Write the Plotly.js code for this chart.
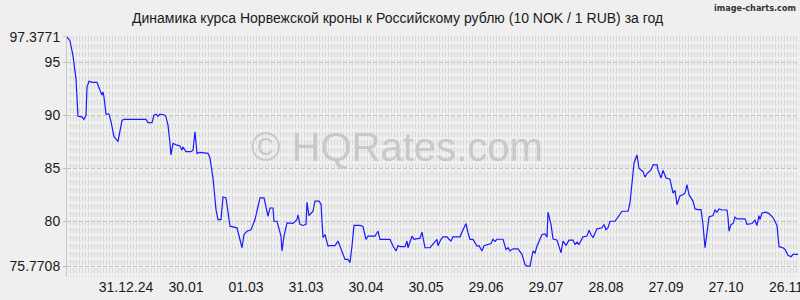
<!DOCTYPE html>
<html>
<head>
<meta charset="utf-8">
<script src="https://cdn.plot.ly/plotly-3.0.1.min.js"></script>
<style>html,body{margin:0;padding:0;background:#efefef;}#chart{width:800px;height:300px;}</style>
</head>
<body>
<div id="chart"></div>
<script>
const dates = [
"2024-12-01 12:00","2024-12-03","2024-12-04 12:00","2024-12-06","2024-12-07","2024-12-09","2024-12-10","2024-12-11","2024-12-11 12:00","2024-12-12 12:00",
"2024-12-14","2024-12-16 12:00","2024-12-18","2024-12-19","2024-12-19 12:00","2024-12-20","2024-12-21","2024-12-22 12:00","2024-12-23 12:00","2024-12-25",
"2024-12-26 12:00","2024-12-27","2024-12-29","2024-12-30","2025-01-10","2025-01-11","2025-01-13","2025-01-14","2025-01-15","2025-01-16",
"2025-01-17","2025-01-19 12:00","2025-01-20","2025-01-21","2025-01-22","2025-01-22 12:00","2025-01-23 12:00","2025-01-25","2025-01-27","2025-01-28",
"2025-01-28 12:00","2025-01-30","2025-02-01 12:00","2025-02-02 12:00","2025-02-03 12:00","2025-02-04 12:00","2025-02-06","2025-02-10","2025-02-11","2025-02-12 12:00",
"2025-02-14","2025-02-15","2025-02-16 12:00","2025-02-17 12:00","2025-02-19","2025-02-21","2025-02-24 12:00","2025-02-25 12:00","2025-02-27","2025-02-28",
"2025-03-01 12:00","2025-03-03 12:00","2025-03-05 12:00","2025-03-08","2025-03-10","2025-03-12","2025-03-13","2025-03-14 12:00","2025-03-15","2025-03-16 12:00",
"2025-03-17 12:00","2025-03-18 12:00","2025-03-19","2025-03-20","2025-03-21 12:00","2025-03-24 12:00","2025-03-26 12:00","2025-03-27","2025-03-28","2025-03-29 12:00",
"2025-03-31","2025-03-31 12:00","2025-04-01 12:00","2025-04-03 12:00","2025-04-04 12:00","2025-04-06 12:00","2025-04-07 12:00","2025-04-08 12:00","2025-04-09 12:00","2025-04-11",
"2025-04-12","2025-04-14 12:00","2025-04-16","2025-04-17","2025-04-18 12:00","2025-04-19 12:00","2025-04-21","2025-04-22","2025-04-23","2025-04-24",
"2025-04-27","2025-04-28 12:00","2025-04-30","2025-05-01","2025-05-04 12:00","2025-05-06","2025-05-07","2025-05-08 12:00","2025-05-12","2025-05-13 12:00",
"2025-05-15","2025-05-16","2025-05-17","2025-05-19 12:00","2025-05-20 12:00","2025-05-21","2025-05-22 12:00","2025-05-23","2025-05-24","2025-05-27",
"2025-05-28","2025-05-29 12:00","2025-06-01","2025-06-02 12:00","2025-06-04 12:00","2025-06-05","2025-06-06 12:00","2025-06-07 12:00","2025-06-09 12:00","2025-06-10 12:00",
"2025-06-11 12:00","2025-06-12 12:00","2025-06-16","2025-06-17 12:00","2025-06-19","2025-06-20","2025-06-21","2025-06-22 12:00","2025-06-24 12:00","2025-06-25 12:00",
"2025-06-27","2025-06-28","2025-06-29 12:00","2025-07-01 12:00","2025-07-02 12:00","2025-07-03 12:00","2025-07-04 12:00","2025-07-07 12:00","2025-07-09","2025-07-10",
"2025-07-11","2025-07-12 12:00","2025-07-15","2025-07-17","2025-07-18 12:00","2025-07-19 12:00","2025-07-21","2025-07-22 12:00","2025-07-23 12:00","2025-07-24 12:00",
"2025-07-27","2025-07-28 12:00","2025-07-29 12:00","2025-07-30","2025-07-31 12:00","2025-08-01 12:00","2025-08-03 12:00","2025-08-05 12:00","2025-08-06 12:00","2025-08-08",
"2025-08-09 12:00","2025-08-11 12:00","2025-08-12 12:00","2025-08-13 12:00","2025-08-14 12:00","2025-08-16 12:00","2025-08-18 12:00","2025-08-19 12:00","2025-08-20 12:00","2025-08-21 12:00",
"2025-08-23 12:00","2025-08-26","2025-08-27","2025-08-28","2025-08-29","2025-08-30","2025-09-01 12:00","2025-09-02 12:00","2025-09-03 12:00","2025-09-05",
"2025-09-08","2025-09-09","2025-09-10","2025-09-11","2025-09-12 12:00","2025-09-13 12:00","2025-09-14 12:00","2025-09-15 12:00","2025-09-16 12:00","2025-09-17 12:00",
"2025-09-19 12:00","2025-09-20 12:00","2025-09-22 12:00","2025-09-23","2025-09-24 12:00","2025-09-25 12:00","2025-09-27","2025-09-29","2025-09-30 12:00","2025-10-01 12:00",
"2025-10-02 12:00","2025-10-04","2025-10-05 12:00","2025-10-06 12:00","2025-10-07 12:00","2025-10-08 12:00","2025-10-10 12:00","2025-10-11 12:00","2025-10-13","2025-10-14 12:00",
"2025-10-15 12:00","2025-10-16 12:00","2025-10-17 12:00","2025-10-18 12:00","2025-10-20 12:00","2025-10-21 12:00","2025-10-22 12:00","2025-10-23 12:00","2025-10-25","2025-10-27 12:00",
"2025-10-28","2025-10-28 12:00","2025-10-29 12:00","2025-10-30 12:00","2025-10-31 12:00","2025-11-01 12:00","2025-11-05 12:00","2025-11-06 12:00","2025-11-09","2025-11-10 12:00",
"2025-11-11 12:00","2025-11-12 12:00","2025-11-13","2025-11-14","2025-11-16","2025-11-17 12:00","2025-11-19 12:00","2025-11-21 12:00","2025-11-22 12:00","2025-11-24 12:00",
"2025-11-25 12:00","2025-11-27","2025-11-28 12:00","2025-11-29 12:00","2025-12-02"
];
const rates = [
97.3771,97.0,95.6,93.4,89.9,89.85,89.6,90.0,92.65,93.2,
93.1,93.1,92.35,91.9,92.2,91.7,90.1,90.1,89.4,87.97,
87.66,87.5,89.5,89.6,89.6,89.3,89.3,90.0,90.1,89.9,
90.1,90.0,89.84,89.07,87.35,86.25,87.35,87.2,87.1,86.7,
87.0,86.56,86.56,86.7,88.44,86.4,86.5,86.4,85.95,84.07,
81.1,80.16,80.16,82.29,82.2,79.53,79.38,78.6,77.5,78.75,
79.06,79.2,80.16,82.2,82.2,80.47,81.25,81.25,80.0,80.0,
79.38,78.6,77.19,78.6,79.85,79.8,80.16,80.6,79.7,79.6,
79.7,81.78,80.53,80.94,81.9,81.9,81.6,78.44,78.75,77.66,
77.7,77.7,78.13,77.66,77.03,76.4,76.4,76.1,77.66,79.6,
79.6,79.5,78.28,78.6,78.6,79.06,78.28,78.3,78.3,77.66,
77.19,77.7,77.6,77.6,78.13,77.5,78.28,78.6,78.3,78.4,
78.97,77.5,77.5,77.81,78.28,77.7,78.3,78.53,78.53,78.3,
78.13,78.53,78.53,79.2,79.78,78.9,78.28,78.28,77.66,77.7,
77.19,77.7,77.8,77.9,78.3,78.1,78.3,78.3,77.34,77.5,
77.2,77.4,77.4,76.88,75.9,75.7708,75.7708,77.19,77.0,77.66,
78.75,78.8,78.5,80.85,79.7,78.35,78.22,77.03,78.13,77.72,
78.22,78.22,77.81,78.03,77.81,78.53,78.6,79.16,78.75,78.44,
79.28,79.38,79.69,79.2,79.4,80.0,80.0,80.22,80.53,80.94,
80.94,81.72,83.9,85.47,86.25,85.0,84.84,84.7,84.16,84.5,
84.84,85.31,85.31,84.84,84.07,84.8,84.07,83.97,82.66,82.9,
81.56,82.4,82.5,82.66,83.44,82.5,81.9,81.16,81.1,81.1,
79.69,77.5,78.9,80.4,80.53,81.06,80.85,81.16,81.06,81.06,
80.35,79.06,79.7,79.78,80.4,80.22,80.22,79.7,79.78,80.1,
79.6,80.53,80.16,80.78,80.85,80.72,80.35,79.6,77.6,77.5,
77.34,76.78,76.65,76.88,76.88
];
const xTickDates = ["2024-12-31","2025-01-30","2025-03-01","2025-03-31","2025-04-30","2025-05-30","2025-06-29","2025-07-29","2025-08-28","2025-09-27","2025-10-27","2025-11-26"];
const xTickText = ["31.12.24","30.01","01.03","31.03","30.04","30.05","29.06","29.07","28.08","27.09","27.10","26.11"];
const yTickVals = [75.7708,80,85,90,95,97.3771];
const yTickText = ["75.7708","80","85","90","95","97.3771"];
const titleText = "Динамика курса Норвежской кроны к Российскому рублю (10 NOK / 1 RUB) за год";

const trace = {
  x: dates, y: rates, type: "scatter", mode: "lines",
  line: {color: "#1a1aff", width: 1.2}, hoverinfo: "skip"
};
const font = "Liberation Sans, Arial, sans-serif";
const layout = {
  width: 800, height: 300,
  margin: {l: 67, r: 2, t: 36, b: 23},
  paper_bgcolor: "#efefef", plot_bgcolor: "#efefef",
  showlegend: false,
  title: {text: titleText, font: {family: font, size: 14, color: "#1a1a1a"},
          xref: "container", x: 0.497, xanchor: "center", yref: "container", y: 0.94, yanchor: "middle"},
  xaxis: {
    type: "date", range: ["2024-12-01 12:00", "2025-12-02"],
    tickmode: "array", tickvals: xTickDates, ticktext: xTickText,
    showgrid: false, zeroline: false, showline: false, ticks: "",
    ticklabeloverflow: "allow",
    tickfont: {family: font, size: 14, color: "#1a1a1a"},
    minor: {tickmode: "linear", tick0: "2024-12-01 12:00", dtick: 129600000,
            showgrid: true, gridcolor: "#d6d6d6", gridwidth: 1, griddash: "5px,3px", ticks: ""}
  },
  yaxis: {
    range: [74.74, 97.47], tickmode: "array", tickvals: yTickVals, ticktext: yTickText,
    showgrid: true, gridcolor: "#c4c4c4", gridwidth: 1, griddash: "4px,2px",
    zeroline: false, showline: true, linecolor: "#c8c8c8", linewidth: 1,
    ticks: "outside", ticklen: 3, tickcolor: "#c0c0c0",
    tickfont: {family: font, size: 14, color: "#1a1a1a"}
  },
  annotations: [
    {text: "© HQRates.com", xref: "paper", yref: "paper", x: 0.451, y: 0.54,
     xanchor: "center", yanchor: "middle", showarrow: false,
     font: {family: font, size: 40, color: "#c9c9c9"}},
    {text: "<b>image-charts.com</b>", xref: "paper", yref: "paper", x: 1.0, y: 1.145,
     xanchor: "right", yanchor: "top", showarrow: false,
     font: {family: "DejaVu Sans Condensed, Liberation Sans Narrow, sans-serif", size: 9, color: "#333"}}
  ]
};
Plotly.newPlot("chart", [trace], layout, {staticPlot: true, displayModeBar: false});
</script>
</body>
</html>
